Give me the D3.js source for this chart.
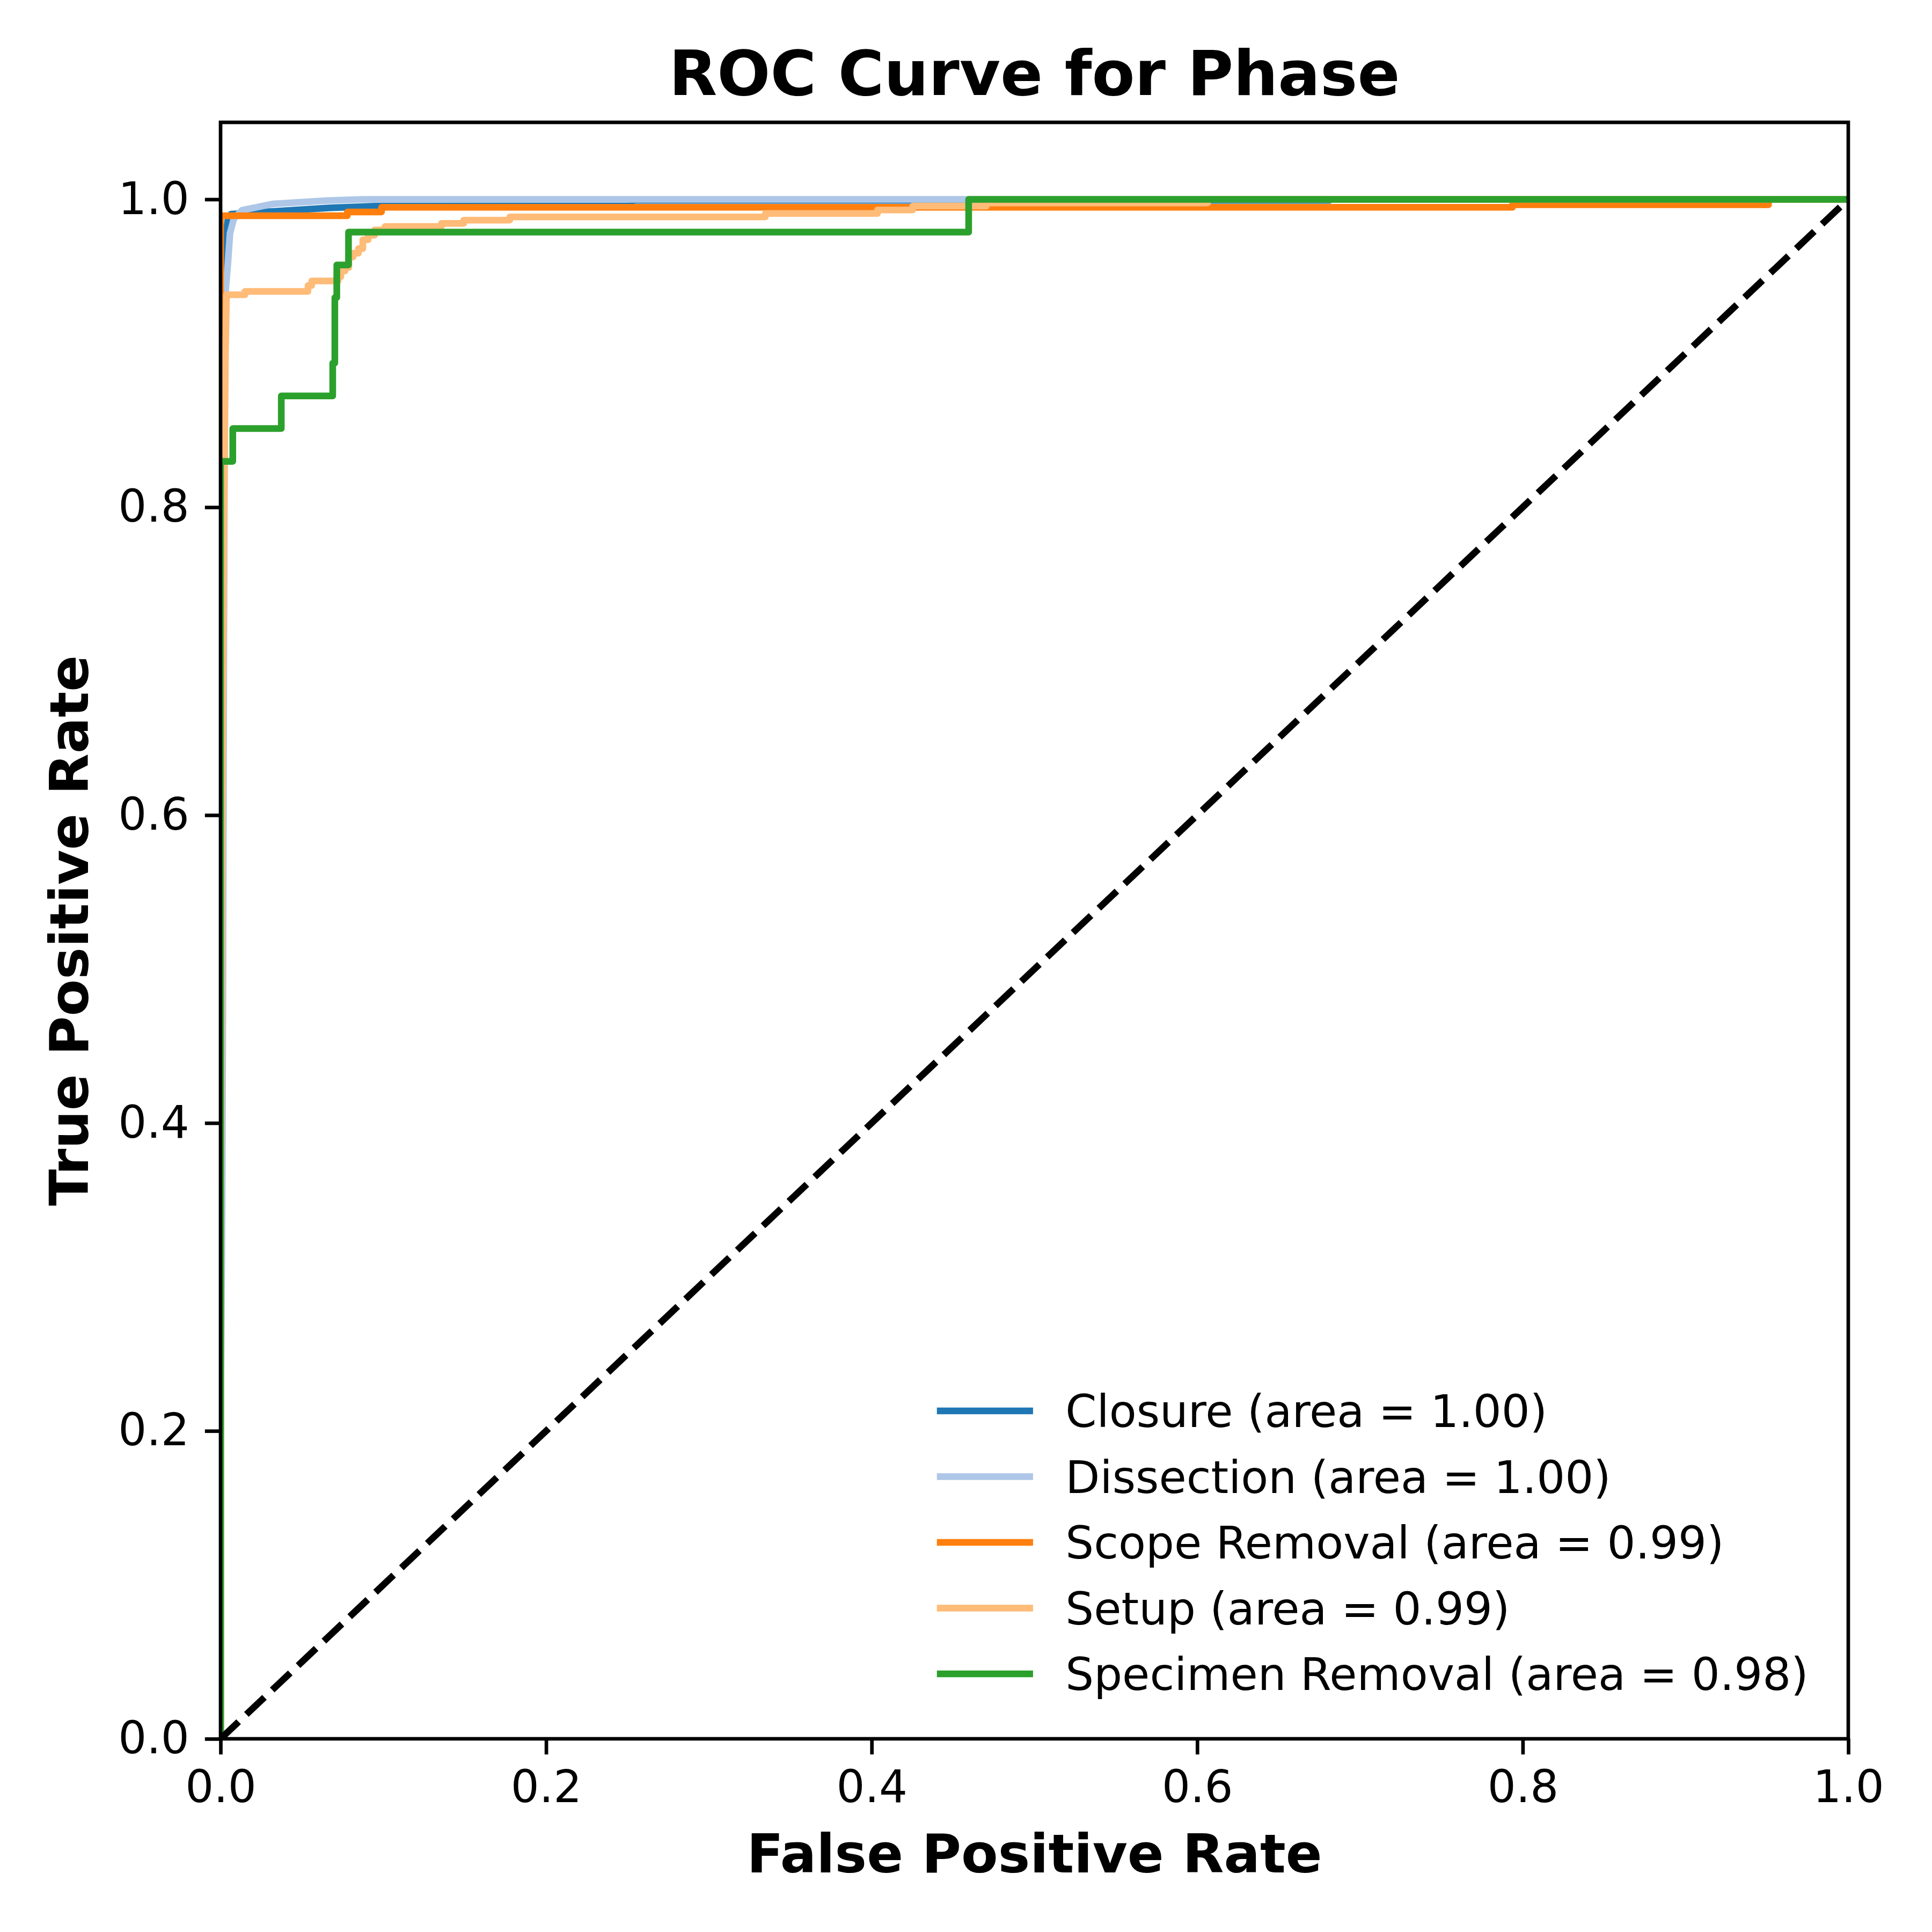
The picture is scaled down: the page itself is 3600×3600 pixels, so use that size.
<!DOCTYPE html>
<html>
<head>
<meta charset="utf-8">
<script src="https://cdn.jsdelivr.net/npm/d3@7"></script>
<style>
  body { margin: 0; background: #fff; }
  text { font-family: "DejaVu Sans", sans-serif; }
</style>
</head>
<body>
<div id="chart"></div>
<script>
// ROC curve points per class, [fpr, tpr]
var closure = [[0,0],[0,0.30],[0.001,0.60],[0.002,0.85],[0.003,0.95],[0.0033,0.976],[0.0045,0.987],
  [0.0064,0.9904],[0.019,0.9912],[0.040,0.9927],[0.0674,0.9945],[0.0968,0.9956],[0.2525,0.9957],
  [0.2525,0.9994],[0.6815,0.9994],[0.6815,1],[1,1]];
var dissection = [[0,0],[0,0.20],[0.001,0.35],[0.0015,0.5],[0.002,0.7],[0.0025,0.85],[0.0029,0.938],
  [0.0046,0.9595],[0.0058,0.978],[0.0082,0.9876],[0.0133,0.993],[0.0319,0.997],[0.0655,0.9992],
  [0.0875,1],[1,1]];
var scopeRemoval = [[0,0],[0,0.9893],[0.0779,0.9893],[0.0779,0.9918],[0.0989,0.9918],[0.0989,0.9948],
  [0.7937,0.9948],[0.7937,0.9965],[0.951,0.9965],[0.951,1],[1,1]];
var setup = [[0,0],[0,0.30],[0.001,0.60],[0.002,0.78],[0.003,0.90],[0.0036,0.934],[0.0036,0.938],
  [0.015,0.938],[0.015,0.9402],[0.0537,0.9402],[0.0537,0.944],[0.056,0.944],[0.056,0.947],
  [0.0722,0.947],[0.0722,0.9497],[0.0739,0.9497],[0.0739,0.9534],[0.0764,0.9534],[0.0764,0.9557],
  [0.0788,0.9557],[0.0788,0.9626],[0.0814,0.9626],[0.0814,0.965],[0.0847,0.965],[0.0847,0.968],
  [0.0874,0.968],[0.0874,0.9737],[0.0907,0.9737],[0.0907,0.9767],[0.0946,0.9767],[0.0946,0.9801],
  [0.1011,0.9801],[0.1011,0.9824],[0.1357,0.9824],[0.1357,0.9844],[0.1494,0.9844],[0.1494,0.9865],
  [0.1777,0.9865],[0.1777,0.9886],[0.3347,0.9886],[0.3347,0.9908],[0.4036,0.9908],[0.4036,0.9931],
  [0.4252,0.9931],[0.4252,0.9956],[0.4705,0.9956],[0.4705,0.9976],[0.6063,0.9976],[0.6063,1],[1,1]];
var specimenRemoval = [[0,0],[0,0.8298],[0.0075,0.8298],[0.0075,0.8511],[0.0373,0.8511],[0.0373,0.8723],
  [0.0689,0.8723],[0.0689,0.8936],[0.0702,0.8936],[0.0702,0.9362],[0.0714,0.9362],[0.0714,0.9574],
  [0.0786,0.9574],[0.0786,0.9787],[0.4596,0.9787],[0.4596,1],[1,1]];

var classNames = ["Closure", "Dissection", "Scope Removal", "Setup", "Specimen Removal"];
var aucs = [1.00, 1.00, 0.99, 0.99, 0.98];
var curves = [closure, dissection, scopeRemoval, setup, specimenRemoval];
var colors = ["#1f77b4", "#aec7e8", "#ff7f0e", "#ffbb78", "#2ca02c"];
var diagonal = [[0,0],[1,1]];
var xTicks = [0, 0.2, 0.4, 0.6, 0.8, 1.0];
var yTicks = [0, 0.2, 0.4, 0.6, 0.8, 1.0];

var W = 3600, H = 3600;
var pt = 600 / 72; // px per point
var margin = {top: 228, right: 3600 - 3444, bottom: 3600 - 3240, left: 411};
var width = W - margin.left - margin.right;
var height = H - margin.top - margin.bottom;

var svg = d3.select("#chart").append("svg")
    .attr("width", W)
    .attr("height", H);
svg.append("rect").attr("width", W).attr("height", H).attr("fill", "white");

var g = svg.append("g").attr("transform", "translate(" + margin.left + "," + margin.top + ")");

var x = d3.scaleLinear().domain([0, 1]).range([0, width]);
var y = d3.scaleLinear().domain([0, 1.05]).range([height, 0]);

g.append("clipPath").attr("id", "plotclip")
  .append("rect").attr("width", width).attr("height", height);

var line = d3.line()
    .x(function(d){ return x(d[0]); })
    .y(function(d){ return y(d[1]); });

var plot = g.append("g").attr("clip-path", "url(#plotclip)");
curves.forEach(function(c, i){
  plot.append("path")
    .datum(c)
    .attr("d", line)
    .attr("fill", "none")
    .attr("stroke", colors[i])
    .attr("stroke-width", 1.5 * pt)
    .attr("stroke-linejoin", "round");
});

// chance line, k-- at default width
plot.append("path")
  .datum(diagonal)
  .attr("d", line)
  .attr("fill", "none")
  .attr("stroke", "black")
  .attr("stroke-width", 1.5 * pt)
  .attr("stroke-dasharray", (3.7 * 1.5 * pt) + "," + (1.6 * 1.5 * pt));

// axes
var tickLen = 3.5 * pt;
var xAxis = d3.axisBottom(x).tickValues(xTicks).tickFormat(d3.format(".1f"))
    .tickSize(tickLen).tickSizeOuter(0).tickPadding(3.5 * pt);
var yAxis = d3.axisLeft(y).tickValues(yTicks).tickFormat(d3.format(".1f"))
    .tickSize(tickLen).tickSizeOuter(0).tickPadding(3.5 * pt);

var gx = g.append("g").attr("transform", "translate(0," + height + ")").call(xAxis);
var gy = g.append("g").call(yAxis);
[gx, gy].forEach(function(a){
  a.select(".domain").remove();
  a.selectAll(".tick line").attr("stroke", "black").attr("stroke-width", 0.8 * pt);
  a.selectAll(".tick text").attr("fill", "black")
    .style("font-family", "'DejaVu Sans', sans-serif")
    .style("font-size", (10 * pt) + "px");
});

// spines
g.append("rect")
  .attr("width", width).attr("height", height)
  .attr("fill", "none").attr("stroke", "black").attr("stroke-width", 0.8 * pt);

// title and labels
svg.append("text")
  .attr("x", margin.left + width / 2).attr("y", 177)
  .attr("text-anchor", "middle")
  .style("font-size", (14 * pt) + "px").style("font-weight", "bold")
  .text("ROC Curve for Phase");

svg.append("text")
  .attr("x", margin.left + width / 2).attr("y", 3489)
  .attr("text-anchor", "middle")
  .style("font-size", (12 * pt) + "px").style("font-weight", "bold")
  .text("False Positive Rate");

svg.append("text")
  .attr("transform", "translate(164," + (margin.top + height / 2) + ") rotate(-90)")
  .attr("text-anchor", "middle")
  .style("font-size", (12 * pt) + "px").style("font-weight", "bold")
  .text("True Positive Rate");

// legend (no frame)
var legendX = 1752, legendY = 2629, rowH = 122.5;
var legend = svg.append("g").attr("transform", "translate(" + legendX + "," + legendY + ")");
classNames.forEach(function(name, i){
  var row = legend.append("g").attr("transform", "translate(0," + (i * rowH) + ")");
  row.append("line")
    .attr("x1", 0).attr("x2", 2 * 10 * pt)
    .attr("y1", 0).attr("y2", 0)
    .attr("stroke", colors[i])
    .attr("stroke-width", 1.5 * pt)
    .attr("stroke-linecap", "square");
  row.append("text")
    .attr("x", 2 * 10 * pt + 0.8 * 10 * pt)
    .attr("y", 30)
    .style("font-size", (10 * pt) + "px")
    .text(name + " (area = " + aucs[i].toFixed(2) + ")");
});
</script>
</body>
</html>
